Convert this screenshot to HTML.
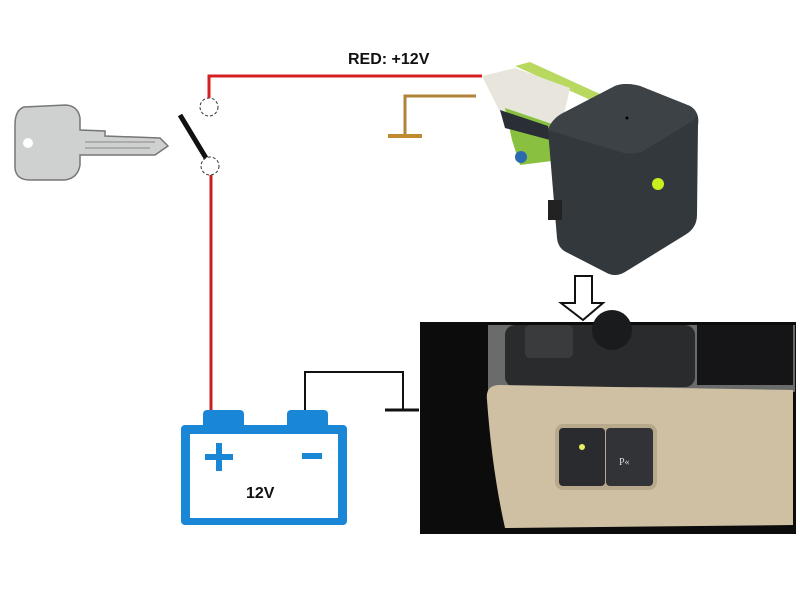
<!DOCTYPE html>
<html><head><style>body{margin:0;background:#fff}svg{display:block}</style></head><body>
<svg width="800" height="600" viewBox="0 0 800 600" xmlns="http://www.w3.org/2000/svg">
<rect width="800" height="600" fill="#fff"/>
<!-- key -->
<path d="M24 107 Q15 110 15 125 L15 168 Q16 180 30 180 L65 180 Q78 178 80 165 L80 155 L155 155 L168 146 L160 138 L105 136 L105 131 L80 130 L80 118 Q78 106 66 105 Z" fill="#cfd0d0" stroke="#777" stroke-width="1.5"/>
<circle cx="28" cy="143" r="5" fill="#fff"/>
<line x1="85" y1="142" x2="155" y2="142" stroke="#888" stroke-width="1"/>
<line x1="85" y1="148" x2="150" y2="148" stroke="#888" stroke-width="1"/>
<!-- switch -->
<line x1="180" y1="115" x2="206" y2="158" stroke="#111" stroke-width="5"/>
<circle cx="209" cy="107" r="9" fill="#fff" stroke="#333" stroke-width="1" stroke-dasharray="3 2"/>
<circle cx="210" cy="166" r="9" fill="#fff" stroke="#333" stroke-width="1" stroke-dasharray="3 2"/>
<!-- red wire -->
<polyline points="209,98 209,76 482,76" fill="none" stroke="#d42020" stroke-width="3"/>
<line x1="211" y1="175" x2="211" y2="412" stroke="#c42020" stroke-width="3"/>
<text x="348" y="64" font-family="Liberation Sans, sans-serif" font-weight="bold" font-size="16" fill="#111">RED: +12V</text>
<!-- brown ground -->
<polyline points="476,96 405,96 405,136" fill="none" stroke="#b08438" stroke-width="3"/>
<line x1="388" y1="136" x2="422" y2="136" stroke="#c08a30" stroke-width="4"/>
<!-- battery -->
<rect x="203" y="410" width="41" height="20" rx="4" fill="#1a86d6"/>
<rect x="287" y="410" width="41" height="20" rx="4" fill="#1a86d6"/>
<rect x="181" y="425" width="166" height="100" rx="4" fill="#1a86d6"/>
<rect x="190" y="434" width="148" height="84" fill="#fff"/>
<rect x="205" y="454" width="28" height="6" fill="#1a86d6"/>
<rect x="216" y="443" width="6" height="28" fill="#1a86d6"/>
<rect x="302" y="453" width="20" height="6" fill="#1a86d6"/>
<text x="246" y="498" font-family="Liberation Sans, sans-serif" font-weight="bold" font-size="16" fill="#111">12V</text>
<!-- black ground -->
<polyline points="305,410 305,372 403,372 403,410" fill="none" stroke="#111" stroke-width="2"/>
<line x1="385" y1="410" x2="419" y2="410" stroke="#111" stroke-width="3"/>
<!-- device -->
<polygon points="515,66 530,62 600,94 595,102" fill="#b8d860"/>
<polygon points="482,76 515,68 570,88 560,132 500,112" fill="#e8e6dc"/>
<polygon points="505,108 555,125 560,160 520,165 512,140" fill="#8ac040"/>
<polygon points="500,110 548,126 550,140 505,128" fill="#2a2e35"/>
<circle cx="521" cy="157" r="6" fill="#2a6ab0"/>
<path d="M548 130 Q552 118 565 112 L615 86 Q625 82 640 86 L690 106 Q700 112 698 125 L697 215 Q697 228 685 235 L625 272 Q615 278 605 272 L566 252 Q558 248 557 238 Z" fill="#33383d"/>
<path d="M548 130 Q552 118 565 112 L615 86 Q625 82 640 86 L690 106 Q700 112 694 120 L645 150 Q635 156 620 152 Z" fill="#3d4247"/>
<rect x="548" y="200" width="14" height="20" fill="#222"/>
<circle cx="658" cy="184" r="6" fill="#c8f020"/>
<circle cx="627" cy="118" r="1.5" fill="#000"/>
<!-- arrow -->
<polygon points="575,276 592,276 592,303 603,303 583,320 561,303 575,303" fill="#fff" stroke="#111" stroke-width="2"/>
<!-- photo -->
<rect x="420" y="322" width="376" height="212" fill="#0c0c0c"/>
<polygon points="488,325 795,325 795,392 488,392" fill="#6a6c6c"/>
<rect x="505" y="325" width="190" height="62" rx="10" fill="#2a2b2d"/>
<rect x="525" y="325" width="48" height="33" rx="5" fill="#3a3b3d"/>
<circle cx="612" cy="330" r="20" fill="#1a1b1c"/>
<rect x="697" y="325" width="96" height="60" fill="#151517"/>
<path d="M487 400 Q485 385 500 385 L793 390 L793 525 L505 528 Q492 470 487 400 Z" fill="#cfc0a4"/>
<rect x="555" y="424" width="102" height="66" rx="8" fill="#b8a88c"/>
<rect x="559" y="428" width="46" height="58" rx="4" fill="#2a2b2e"/>
<rect x="606" y="428" width="47" height="58" rx="4" fill="#323336"/>
<circle cx="582" cy="447" r="3" fill="#e8f060"/>
<text x="619" y="465" font-family="Liberation Serif, serif" font-size="10" fill="#ddd">P«</text>
</svg>
</body></html>
